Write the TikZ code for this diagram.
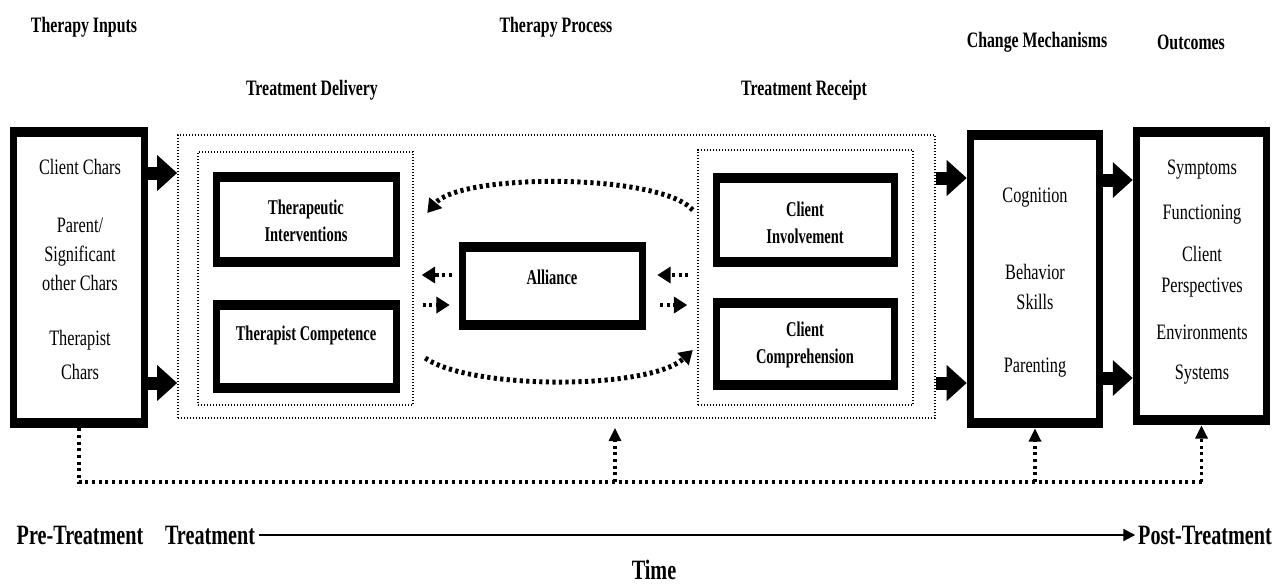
\documentclass[tikz,border=0pt]{standalone}
\usepackage{fontspec}
\setmainfont{Liberation Serif}
\newfontfamily\txtfont[FakeStretch=0.74]{Liberation Serif}
\newfontfamily\hdfont[FakeStretch=0.72]{Liberation Serif}
\newfontfamily\boxfont[FakeStretch=0.69]{Liberation Serif}
\usetikzlibrary{arrows.meta,fit,calc}

\begin{document}
\begin{tikzpicture}[x=0.75pt,y=-0.75pt,
  frame/.style={fill=black, inner sep=0pt,
    path picture={\fill[white]
      ([xshift=5.25pt,yshift=7.5pt]path picture bounding box.south west) rectangle
      ([xshift=-5.25pt,yshift=-7.5pt]path picture bounding box.north east);}},
  dotbox/.style={draw, line width=1.25pt, dash pattern=on 1.1pt off 1.15pt, inner sep=0pt},
  head/.style={font=\hdfont\bfseries\fontsize{16.5pt}{20pt}\selectfont, inner sep=1pt},
  big/.style={font=\hdfont\bfseries\fontsize{21pt}{24pt}\selectfont, inner sep=0pt},
  inlabel/.style={font=\boxfont\bfseries\fontsize{15.75pt}{20.25pt}\selectfont, align=center, inner sep=0pt},
  item/.style={font=\txtfont\fontsize{16.5pt}{21.75pt}\selectfont, align=center, inner sep=0pt},
  solidarrow/.style={line width=9.75pt, -{Triangle[length=15pt,width=26pt]}},
  dotarrow/.style={line width=3.7pt, dash pattern=on 2.4pt off 2.5pt, -{Triangle[length=10pt,width=12pt]}},
  fbline/.style={line width=2.7pt, dash pattern=on 2.2pt off 2.8pt},
  fbarrow/.style={fbline, -{Triangle[length=10pt,width=9pt]}},
  timeline/.style={line width=1.6pt, -{Triangle[length=9pt,width=9pt]}}
]
\useasboundingbox (0,0) rectangle (1287,586);

% column headings
\node[head] (tin)  at (84,27)   {Therapy Inputs};
\node[head] (tpr)  at (556,27)  {Therapy Process};
\node[head] (tdel) at (312,90)  {Treatment Delivery};
\node[head] (trec) at (804,90)  {Treatment Receipt};
\node[head] (tchg) at (1037,42) {Change Mechanisms};
\node[head] (tout) at (1191,42) {Outcomes};

% dotted process regions
\node[dotbox, fit={(178,135) (935,418)}] (proc) {};
\node[dotbox, fit={(198,152) (413,405)}] (del) {};
\node[dotbox, fit={(698,150) (913,405)}] (rec) {};

% heavy framed boxes
\node[frame, fit={(10,127) (148,428)}]   (inp) {};
\node[frame, fit={(213,172) (400,267)}]  (ti) {};
\node[frame, fit={(213,300) (400,393)}]  (tc) {};
\node[frame, fit={(459,242) (646,330)}]  (al) {};
\node[frame, fit={(713,173) (898,267)}]  (ci) {};
\node[frame, fit={(713,298) (898,390)}]  (cc) {};
\node[frame, fit={(967,130) (1103,428)}] (chg) {};
\node[frame, fit={(1133,127) (1270,425)}] (out) {};

% box contents
\node[inlabel] (tiL) at (306,221) {Therapeutic\\Interventions};
\node[inlabel] (tcL) at (306,335) {Therapist Competence};
\node[inlabel] (alL) at (552,277) {Alliance};
\node[inlabel] (ciL) at (805,223) {Client\\Involvement};
\node[inlabel] (ccL) at (805,345) {Client\\Comprehension};

\node[item] (in1) at (80,167) {Client Chars};
\node[item] (in2) at (80,254) {Parent/\\Significant\\other Chars};
\node[item, font=\txtfont\fontsize{16.5pt}{25.5pt}\selectfont] (in3) at (80,355) {Therapist\\Chars};

\node[item] (cm1) at (1035,198) {Cognition};
\node[item, font=\txtfont\fontsize{16.5pt}{22.5pt}\selectfont] (cm2) at (1035,287) {Behavior\\Skills};
\node[item] (cm3) at (1035,368) {Parenting};

\node[item] (oc1) at (1202,170) {Symptoms};
\node[item] (oc2) at (1202,215) {Functioning};
\node[item, font=\txtfont\fontsize{16.5pt}{23.25pt}\selectfont] (oc3) at (1202,272) {Client\\Perspectives};
\node[item] (oc4) at (1202,332) {Environments};
\node[item] (oc5) at (1202,375) {Systems};

% heavy flow arrows
\coordinate (rA) at (0,173);
\coordinate (rB) at (0,383);
\coordinate (rC) at (0,178);
\coordinate (rD) at (0,383);
\coordinate (rE) at (0,180);
\coordinate (rF) at (0,378);
\draw[solidarrow] (inp.east |- rA) -- (proc.west |- rA);
\draw[solidarrow] (inp.east |- rB) -- (proc.west |- rB);
\draw[solidarrow] (proc.east |- rC) -- (chg.west |- rC);
\draw[solidarrow] (proc.east |- rD) -- (chg.west |- rD);
\draw[solidarrow] (chg.east |- rE) -- (out.west |- rE);
\draw[solidarrow] (chg.east |- rF) -- (out.west |- rF);

% reciprocal influences inside the process
\draw[dotarrow] ($(ci.west)+(-20,-10)$) .. controls ($(ci.west)+(-53,-47)$) and ($(ti.east)+(60,-46.5)$) .. ($(ti.east)+(27,-6.5)$);
\draw[dotarrow] ($(tc.east)+(25,11.5)$) .. controls ($(tc.east)+(70,43.5)$) and ($(cc.west)+(-63,46)$) .. ($(cc.west)+(-20,6)$);
\draw[dotarrow] ($(al.west)+(-7,-11)$) -- ($(al.west)+(-37,-11)$);
\draw[dotarrow] ($(al.west)+(-36,19)$) -- ($(al.west)+(-9,19)$);
\draw[dotarrow] ($(al.east)+(42,-11)$) -- ($(al.east)+(11,-11)$);
\draw[dotarrow] ($(al.east)+(14,19)$) -- ($(al.east)+(41,19)$);

% feedback from inputs
\coordinate (fb) at (0,482);
\coordinate (pa) at ($(proc.south)+(58.5,9)$);
\draw[fbline] (inp.south) |- (out.south |- fb);
\draw[fbarrow] (pa |- fb) -- (pa);
\draw[fbarrow] (chg.south |- fb) -- (chg.south);
\draw[fbarrow] (out.south |- fb) -- (out.south);

% time axis
\node[big] (pre)  at (80,535)   {Pre-Treatment};
\node[big] (trt)  at (210,535)  {Treatment};
\node[big] (post) at (1205,535) {Post-Treatment};
\node[big] (time) at (654,570)  {Time};
\draw[timeline] ([xshift=3pt]trt.east) -- ([xshift=-2pt]post.west);
\end{tikzpicture}
\end{document}
